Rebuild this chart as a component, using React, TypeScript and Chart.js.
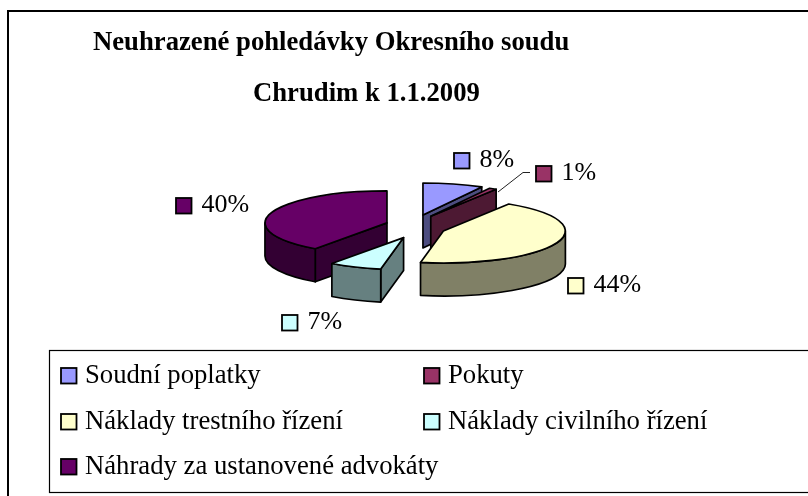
import React, { useEffect, useRef } from "react";
import { Chart, registerables } from "chart.js";

Chart.register(...registerables);

const categories = [
  "Soudní poplatky",
  "Pokuty",
  "Náklady trestního řízení",
  "Náklady civilního řízení",
  "Náhrady za ustanovené advokáty",
];
const values = [8, 1, 44, 7, 40];
const titleLines = ["Neuhrazené pohledávky Okresního soudu", "Chrudim k 1.1.2009"];
const topColors = ["#9999FF", "#993366", "#FFFFCC", "#CCFFFF", "#660066"];
const wallColors = ["#4D4D80", "#4D1933", "#808066", "#668080", "#330033"];

const FONT = '"Liberation Serif", "Times New Roman", serif';
const PIE = { cx: 415.5, cy: 226.6, rx: 122, ry: 32, ex: 30, ey: 12, depth: 33 };
const DRAW_ORDER = [0, 1, 4, 2, 3];
const TITLE_POS = [
  { x: 93, y: 43 },
  { x: 253, y: 94 },
];
const LABEL_POS = [
  { x: 454, y: 153 },
  { x: 536, y: 166 },
  { x: 568, y: 278 },
  { x: 282, y: 315 },
  { x: 176, y: 198 },
];
const LEGEND_POS = [
  { x: 61, y: 368 },
  { x: 424, y: 368 },
  { x: 61, y: 414 },
  { x: 424, y: 414 },
  { x: 61, y: 459 },
];

const pie3d = {
  id: "pie3d",
  beforeDatasetsDraw(chart: any) {
    const ctx: CanvasRenderingContext2D = chart.ctx;
    const arcs = chart.getDatasetMeta(0).data;
    ctx.save();
    ctx.strokeStyle = "#000";
    ctx.lineWidth = 2;
    ctx.strokeRect(8, 11, 900, 600);
    ctx.lineWidth = 1.2;
    ctx.strokeRect(49.5, 350.5, 900, 142);
    ctx.restore();

    for (const i of DRAW_ORDER) {
      const arc = arcs[i];
      const a0 = arc.startAngle;
      const a1 = arc.endAngle;
      const mid = (a0 + a1) / 2;
      const cx = PIE.cx + Math.cos(mid) * PIE.ex;
      const cy = PIE.cy + Math.sin(mid) * PIE.ey;
      const px = (a: number) => cx + Math.cos(a) * PIE.rx;
      const py = (a: number) => cy + Math.sin(a) * PIE.ry;
      ctx.save();
      ctx.lineJoin = "round";
      ctx.strokeStyle = "#000";
      ctx.lineWidth = 1.7;
      ctx.fillStyle = wallColors[i];

      const wall = (a: number) => {
        ctx.beginPath();
        ctx.moveTo(cx, cy);
        ctx.lineTo(px(a), py(a));
        ctx.lineTo(px(a), py(a) + PIE.depth);
        ctx.lineTo(cx, cy + PIE.depth);
        ctx.closePath();
        ctx.fill();
        ctx.stroke();
      };
      if (Math.cos(a0) < -1e-6) wall(a0);
      if (Math.cos(a1) > 1e-6) wall(a1);

      const f0 = Math.max(a0, 0);
      const f1 = Math.min(a1, Math.PI);
      if (f1 > f0) {
        ctx.beginPath();
        ctx.ellipse(cx, cy, PIE.rx, PIE.ry, 0, f0, f1);
        ctx.lineTo(px(f1), py(f1) + PIE.depth);
        ctx.ellipse(cx, cy + PIE.depth, PIE.rx, PIE.ry, 0, f1, f0, true);
        ctx.closePath();
        ctx.fill();
        ctx.stroke();
      }

      ctx.save();
      ctx.translate(cx, cy);
      ctx.scale(PIE.rx / arc.outerRadius, PIE.ry / arc.outerRadius);
      ctx.translate(-arc.x, -arc.y);
      arc.draw(ctx);
      ctx.restore();

      ctx.beginPath();
      ctx.moveTo(cx, cy);
      ctx.ellipse(cx, cy, PIE.rx, PIE.ry, 0, a0, a1);
      ctx.closePath();
      ctx.stroke();
      ctx.restore();
    }
    return undefined;
  },
  beforeDatasetDraw() {
    return false;
  },
  afterDraw(chart: any) {
    const ctx: CanvasRenderingContext2D = chart.ctx;
    const total = values.reduce((s, v) => s + v, 0);
    ctx.save();
    ctx.textBaseline = "middle";
    ctx.textAlign = "left";
    const swatch = (x: number, y: number, s: number, c: string, lw: number) => {
      ctx.fillStyle = c;
      ctx.strokeStyle = "#000";
      ctx.lineWidth = lw;
      ctx.fillRect(x, y, s, s);
      ctx.strokeRect(x, y, s, s);
    };
    ctx.fillStyle = "#000";
    ctx.font = `bold 26.7px ${FONT}`;
    titleLines.forEach((t, i) => ctx.fillText(t, TITLE_POS[i].x, TITLE_POS[i].y));

    ctx.font = `26px ${FONT}`;
    values.forEach((v, i) => {
      const p = LABEL_POS[i];
      swatch(p.x, p.y, 15.5, topColors[i], 1.8);
      ctx.fillStyle = "#000";
      ctx.fillText(`${Math.round((v / total) * 100)}%`, p.x + 25.5, p.y + 7.5);
    });
    ctx.strokeStyle = "#222";
    ctx.lineWidth = 1;
    ctx.beginPath();
    ctx.moveTo(498, 192);
    ctx.lineTo(523, 172.5);
    ctx.lineTo(530, 172.5);
    ctx.stroke();
    ctx.font = `26.7px ${FONT}`;
    categories.forEach((c, i) => {
      const p = LEGEND_POS[i];
      swatch(p.x, p.y, 15.5, topColors[i], 1.8);
      ctx.fillStyle = "#000";
      ctx.fillText(c, p.x + 24, p.y + 8);
    });
    ctx.restore();
  },
};

export default function App() {
  const ref = useRef<HTMLCanvasElement>(null);
  useEffect(() => {
    const chart = new Chart(ref.current as HTMLCanvasElement, {
      type: "pie",
      data: {
        labels: categories,
        datasets: [
          { data: values, backgroundColor: topColors, borderWidth: 0, hoverOffset: 0 },
        ],
      },
      options: {
        animation: false,
        responsive: false,
        maintainAspectRatio: false,
        plugins: {
          legend: { display: false },
          tooltip: { enabled: false },
          title: { display: false },
        },
      } as any,
      plugins: [pie3d as any],
    });
    return () => chart.destroy();
  }, []);
  return (
    <canvas
      ref={ref}
      width={808}
      height={496}
      style={{ position: "fixed", left: 0, top: 0, display: "block", background: "#fff" }}
    />
  );
}
